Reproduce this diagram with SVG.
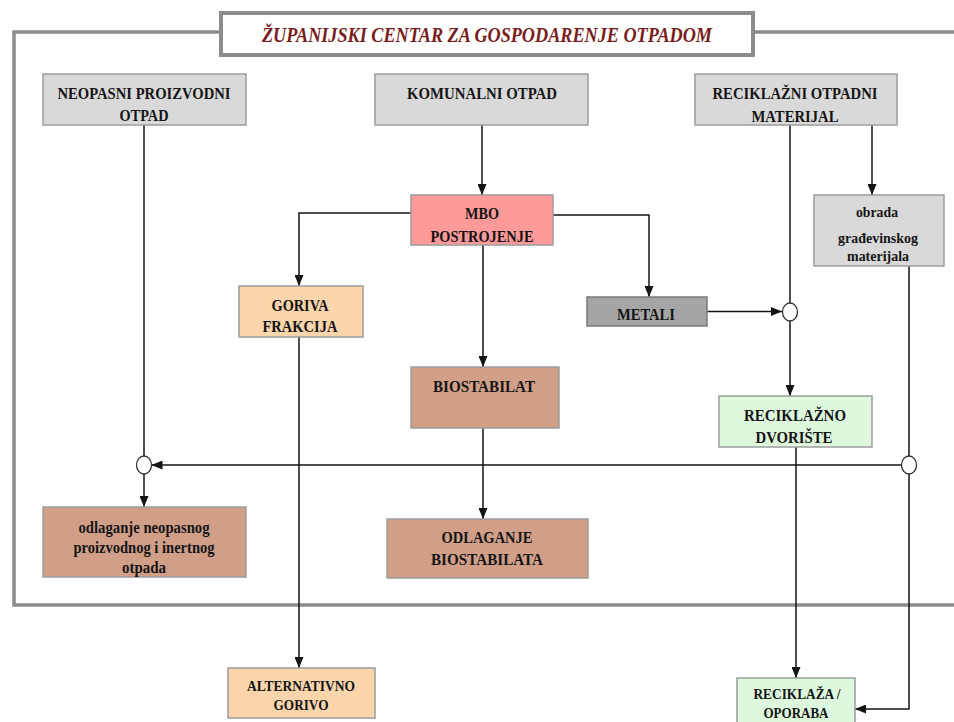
<svg xmlns="http://www.w3.org/2000/svg" width="954" height="722" viewBox="0 0 954 722">
<style>
.box{stroke:#9c9c9c;stroke-width:1.5}
.gray{fill:#d9d9d9}
.red{fill:#ff9a9a}
.peach{fill:#fcd5ab}
.dark{fill:#a5a5a5;stroke:#7a7a7a}
.brown{fill:#d19f88}
.green{fill:#ddf8dd}
text{font-family:"Liberation Serif","Tinos","Times New Roman","DejaVu Serif",serif;font-weight:bold;font-size:17.5px;fill:#141414;text-anchor:middle}
.small{font-size:15px}
.low{font-size:16.5px}
.tight{font-size:15.5px}
.title{font-style:italic;font-size:21px;fill:#7b1c1c}
.conn{stroke:#141414;stroke-width:1.5;fill:none}
.frame{stroke:#8c8c8c;stroke-width:3.5;fill:none}
.circ{fill:#fff;stroke:#333;stroke-width:1.3}
</style>
<defs>
<marker id="arr" viewBox="0 0 11 9" refX="11" refY="4.5" markerWidth="11" markerHeight="9" markerUnits="userSpaceOnUse" orient="auto">
<path d="M0,0 L11,4.5 L0,9 z" fill="#141414"/>
</marker>
</defs>
<rect width="954" height="722" fill="#fff"/>
<g id="frame">
<path class="frame" d="M221,32 H14 V605 H960 M753,32 H960"/>
<rect x="221" y="13" width="532" height="42" fill="#fff" stroke="#8c8c8c" stroke-width="4"/>
<text class="title" x="487" y="42" textLength="450" lengthAdjust="spacingAndGlyphs">ŽUPANIJSKI CENTAR ZA GOSPODARENJE OTPADOM</text>
</g>
<g id="connectors">
<path class="conn" d="M144,125 V456"/>
<path class="conn" d="M144,474 V507" marker-end="url(#arr)"/>
<path class="conn" d="M482,125 V195" marker-end="url(#arr)"/>
<path class="conn" d="M411,213 H299 V286" marker-end="url(#arr)"/>
<path class="conn" d="M553,215 H649 V297" marker-end="url(#arr)"/>
<path class="conn" d="M483,245 V367" marker-end="url(#arr)"/>
<path class="conn" d="M483,428 V519" marker-end="url(#arr)"/>
<path class="conn" d="M299,337 V668" marker-end="url(#arr)"/>
<path class="conn" d="M707,311.5 H782" marker-end="url(#arr)"/>
<path class="conn" d="M790,125 V303"/>
<path class="conn" d="M790,321 V396" marker-end="url(#arr)"/>
<path class="conn" d="M872,125 V195" marker-end="url(#arr)"/>
<path class="conn" d="M909,266 V456"/>
<path class="conn" d="M909,474 V709 H855" marker-end="url(#arr)"/>
<path class="conn" d="M901.5,465 H151.5" marker-end="url(#arr)"/>
<path class="conn" d="M796,447 V678" marker-end="url(#arr)"/>
<ellipse class="circ" cx="144" cy="465" rx="7.5" ry="9"/>
<ellipse class="circ" cx="790" cy="312" rx="7.5" ry="9"/>
<ellipse class="circ" cx="909" cy="465" rx="7.5" ry="9"/>
</g>
<g id="neopasni">
<rect class="box gray" x="43" y="74" width="203" height="51"/>
<text x="144" y="99" textLength="173" lengthAdjust="spacingAndGlyphs">NEOPASNI PROIZVODNI</text>
<text x="144" y="121" textLength="49" lengthAdjust="spacingAndGlyphs">OTPAD</text>
</g>
<g id="komunalni">
<rect class="box gray" x="375" y="74" width="213" height="51"/>
<text x="482" y="99" textLength="150" lengthAdjust="spacingAndGlyphs">KOMUNALNI OTPAD</text>
</g>
<g id="reciklazni">
<rect class="box gray" x="695" y="74" width="202" height="51"/>
<text x="795" y="99" textLength="165" lengthAdjust="spacingAndGlyphs">RECIKLAŽNI OTPADNI</text>
<text x="795" y="122" textLength="87" lengthAdjust="spacingAndGlyphs">MATERIJAL</text>
</g>
<g id="mbo">
<rect class="box red" x="411" y="195" width="142" height="50"/>
<text x="482" y="219" textLength="34" lengthAdjust="spacingAndGlyphs">MBO</text>
<text x="482" y="242" textLength="103" lengthAdjust="spacingAndGlyphs">POSTROJENJE</text>
</g>
<g id="obrada">
<rect class="box gray" x="814" y="195" width="130" height="71"/>
<text class="small" x="877" y="217" textLength="42" lengthAdjust="spacingAndGlyphs">obrada</text>
<text class="small" x="878" y="243" textLength="80" lengthAdjust="spacingAndGlyphs">građevinskog</text>
<text class="small" x="878" y="261" textLength="62" lengthAdjust="spacingAndGlyphs">materijala</text>
</g>
<g id="goriva">
<rect class="box peach" x="239" y="286" width="124" height="51"/>
<text x="300" y="311" textLength="57" lengthAdjust="spacingAndGlyphs">GORIVA</text>
<text x="300" y="332" textLength="75" lengthAdjust="spacingAndGlyphs">FRAKCIJA</text>
</g>
<g id="metali">
<rect class="box dark" x="587" y="297" width="120" height="29"/>
<text x="646" y="320" textLength="58" lengthAdjust="spacingAndGlyphs">METALI</text>
</g>
<g id="biostabilat">
<rect class="box brown" x="411" y="367" width="148" height="61"/>
<text x="484" y="392" textLength="102" lengthAdjust="spacingAndGlyphs">BIOSTABILAT</text>
</g>
<g id="dvoriste">
<rect class="box green" x="719" y="396" width="153" height="51"/>
<text x="795" y="421" textLength="102" lengthAdjust="spacingAndGlyphs">RECIKLAŽNO</text>
<text x="794" y="443" textLength="77" lengthAdjust="spacingAndGlyphs">DVORIŠTE</text>
</g>
<g id="odlaganje-neopasnog">
<rect class="box brown" x="43" y="507" width="203" height="70"/>
<text class="low" x="144" y="533" textLength="131" lengthAdjust="spacingAndGlyphs">odlaganje neopasnog</text>
<text class="low" x="144" y="553" textLength="141" lengthAdjust="spacingAndGlyphs">proizvodnog i inertnog</text>
<text class="low" x="144" y="573" textLength="44" lengthAdjust="spacingAndGlyphs">otpada</text>
</g>
<g id="odlaganje-biostabilata">
<rect class="box brown" x="387" y="519" width="201" height="59"/>
<text x="487" y="543" textLength="91" lengthAdjust="spacingAndGlyphs">ODLAGANJE</text>
<text x="487" y="565" textLength="112" lengthAdjust="spacingAndGlyphs">BIOSTABILATA</text>
</g>
<g id="alternativno">
<rect class="box peach" x="228" y="668" width="147" height="50"/>
<text class="tight" x="301" y="691" textLength="108" lengthAdjust="spacingAndGlyphs">ALTERNATIVNO</text>
<text class="tight" x="301" y="710" textLength="55" lengthAdjust="spacingAndGlyphs">GORIVO</text>
</g>
<g id="reciklaza">
<rect class="box green" x="737" y="678" width="118" height="50"/>
<text class="tight" x="797" y="699" textLength="87" lengthAdjust="spacingAndGlyphs">RECIKLAŽA /</text>
<text class="tight" x="796" y="718" textLength="65" lengthAdjust="spacingAndGlyphs">OPORABA</text>
</g>
</svg>
